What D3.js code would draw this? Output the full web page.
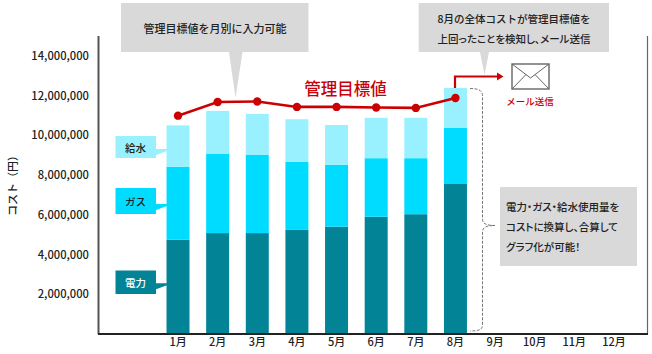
<!DOCTYPE html>
<html lang="ja"><head><meta charset="utf-8">
<script src="https://cdn.jsdelivr.net/npm/d3@7"></script>
<style>
html,body{margin:0;padding:0;background:#fff}
svg{display:block}
text{font-family:"Noto Sans CJK JP","Noto Sans",sans-serif;fill:#222}
</style></head><body><svg id="c" width="652" height="354"></svg>
<script>
const months=["1月","2月","3月","4月","5月","6月","7月","8月","9月","10月","11月","12月"];
const electricity=[4750000,5080000,5080000,5240000,5400000,5900000,6030000,7550000];
const gas=[3660000,3980000,3950000,3420000,3110000,2950000,2820000,2820000];
const water=[2090000,2170000,2050000,2150000,2010000,2030000,2030000,2020000];
const target=[10990000,11680000,11700000,11430000,11430000,11400000,11380000,11880000];
const yTicks=[2000000,4000000,6000000,8000000,10000000,12000000,14000000];
const seriesKeys=["電力","ガス","給水"];
const colors={"電力":"#038496","ガス":"#00dcff","給水":"#99f0ff"};
const noteTop="管理目標値を月別に入力可能";
const noteMail=["8月の全体コストが管理目標値を","上回ったことを検知し、メール送信"];
const noteSide=["電力・ガス・給水使用量を","コストに換算し、合算して","グラフ化が可能！"];

const svg=d3.select("#c");
const x=d3.scaleBand().domain(months).range([158.2,633.8]).paddingInner(0.42).paddingOuter(0.21);
const y=d3.scaleLinear().domain([0,15000000]).range([334,36]);
const rows=electricity.map((e,i)=>({month:months[i],"電力":e,"ガス":gas[i],"給水":water[i]}));
const stack=d3.stack().keys(seriesKeys)(rows);

svg.append("g").selectAll("g").data(stack).join("g").attr("fill",d=>colors[d.key])
 .selectAll("rect").data(d=>d).join("rect")
 .attr("x",d=>x(d.data.month)).attr("width",x.bandwidth())
 .attr("y",d=>y(d[1])).attr("height",d=>y(d[0])-y(d[1]));

// frame
svg.append("line").attr("x1",98.5).attr("x2",98.5).attr("y1",36).attr("y2",334).attr("stroke","#555").attr("stroke-width",2);
svg.append("line").attr("x1",647.5).attr("x2",647.5).attr("y1",36).attr("y2",334).attr("stroke","#666").attr("stroke-width",1.2);
svg.append("line").attr("x1",98).attr("x2",648).attr("y1",334).attr("y2",334).attr("stroke","#222").attr("stroke-width",2);

// axes
const ya=svg.append("g").attr("transform","translate(98,0)")
 .call(d3.axisLeft(y).tickValues(yTicks).tickSize(0).tickPadding(9).tickFormat(d3.format(",")));
ya.select(".domain").remove();
ya.selectAll("text").attr("font-size",11.2).attr("fill","#222").attr("font-weight",500);
const xa=svg.append("g").attr("transform","translate(0,334)")
 .call(d3.axisBottom(x).tickSize(0).tickPadding(4));
xa.select(".domain").remove();
xa.selectAll("text").attr("font-size",11).attr("fill","#222").attr("font-weight",500);
svg.append("text").attr("transform","translate(12,183) rotate(-90)").attr("text-anchor","middle")
 .attr("dominant-baseline","central").attr("font-size",11).attr("font-weight",500).text("コスト（円）");

// target line
const cx=(d,i)=>x(months[i])+x.bandwidth()/2;
svg.append("path").datum(target).attr("fill","none").attr("stroke","#cc0000").attr("stroke-width",2.6)
 .attr("d",d3.line().x(cx).y(d=>y(d)));
svg.append("g").selectAll("circle").data(target).join("circle")
 .attr("cx",cx).attr("cy",d=>y(d)).attr("r",4.2).attr("fill","#cc0000");
svg.append("text").attr("x",345.5).attr("y",95).attr("text-anchor","middle").attr("font-size",16.5)
 .attr("font-weight",500).style("fill","#c8000a").text("管理目標値");

// callouts
const grey="#d9d9d9";
svg.append("path").attr("fill",grey).attr("d","M121,3H308.500V52H242.500L235.500,98L229,52H121Z");
svg.append("text").attr("x",215).attr("y",28).attr("text-anchor","middle").attr("dominant-baseline","central")
 .attr("font-size",11).attr("font-weight",500).text(noteTop);
svg.append("path").attr("fill",grey).attr("d","M418.700,3H609V52H489L484.500,75L480,52H418.700Z");
noteMail.forEach((t,i)=>svg.append("text").attr("x",514).attr("y",18+i*20).attr("text-anchor","middle")
 .attr("dominant-baseline","central").attr("font-size",10.5).attr("font-weight",500)
 .style("font-feature-settings",i?'"palt"':null).text(t));
svg.append("rect").attr("x",500).attr("y",187).attr("width",137).attr("height",79).attr("fill",grey);
noteSide.forEach((t,i)=>svg.append("text").attr("x",506).attr("y",206+i*20).attr("dominant-baseline","central")
 .attr("font-size",10.5).attr("font-weight",500).style("font-feature-settings",'"palt"').text(t));

// red arrow + envelope
svg.append("path").attr("fill","none").attr("stroke","#cc0000").attr("stroke-width",2.2).attr("d","M455,88V76.500H498");
svg.append("path").attr("fill","#cc0000").attr("d","M497,72.500L503.500,76.500L497,80.500Z");
const env=svg.append("g").attr("fill","none").attr("stroke","#666");
env.append("rect").attr("x",512).attr("y",64).attr("width",37).attr("height",25).attr("stroke-width",1.4).attr("fill","#fff");
env.append("path").attr("stroke-width",1).attr("d","M512,64L530.500,78L549,64M512,89L526,74.500M549,89L535,74.500");
svg.append("text").attr("x",530).attr("y",101).attr("text-anchor","middle").attr("dominant-baseline","central")
 .attr("font-size",9.5).attr("font-weight",500).style("fill","#c8000a").text("メール送信");

// brace
svg.append("path").attr("fill","none").attr("stroke","#777").attr("stroke-width",1).attr("stroke-dasharray","3,1.5")
 .attr("d","M470,88.500C478,88.500 482.500,90 482.500,96V219C482.500,223 485,225.500 495,225.500C485,225.500 482.500,228 482.500,232V325C482.500,330 478,331 470,331");

// series labels
const tags=[["給水",136,22,149,"#222"],["ガス",188,26,204,"#222"],["電力",270.5,23.5,283.3,"#fff"]];
tags.forEach(([t,ty,h,ay,col])=>{
 svg.append("path").attr("fill",colors[t]).attr("d",`M115.500,${ty}H156V${ay}L172.500,${ay}L156,${ay+6}V${ty+h}H115.500Z`);
 svg.append("text").attr("x",135.500).attr("y",ty+h/2).attr("text-anchor","middle").attr("dominant-baseline","central")
  .attr("font-size",10.5).attr("font-weight",500).style("fill",col).text(t);
});
</script></body></html>
